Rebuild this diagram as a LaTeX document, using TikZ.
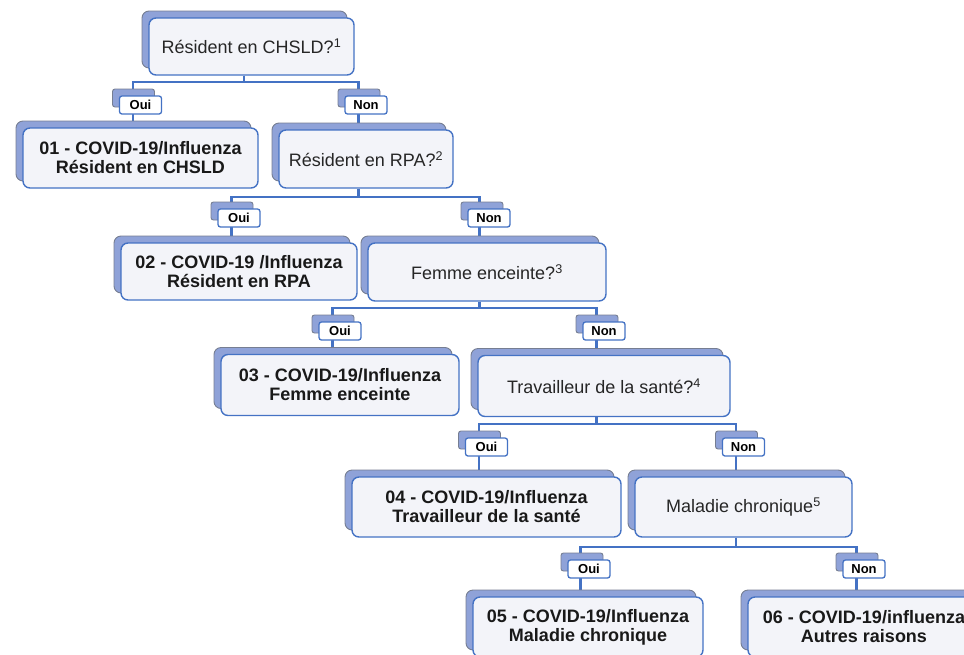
\documentclass[tikz,border=0pt]{standalone}
\usepackage{fontspec}
\setmainfont{Liberation Sans}
\usepackage{tikz}
\usetikzlibrary{shadows, backgrounds}

\definecolor{linkblue}{HTML}{4472C4}
\definecolor{backfill}{HTML}{8FA2D8}
\definecolor{backedge}{HTML}{767E92}
\definecolor{frontfill}{HTML}{F3F4F9}
\definecolor{textgray}{HTML}{262626}

\tikzset{
    question/.style={rectangle, rounded corners=7pt, draw=linkblue, line width=1.4pt,
        fill=frontfill, text=textgray, inner sep=0pt,
        font=\fontsize{18}{19}\selectfont,
        general shadow={shadow xshift=-7pt, shadow yshift=7pt, fill=backfill, draw=backedge, line width=0.9pt}},
    result/.style={question, align=center, text=black!90,
        font=\bfseries\fontsize{18}{19}\selectfont},
    tab/.style={rectangle, rounded corners=2.5pt, draw=linkblue, line width=1.3pt,
        fill=white, minimum width=42pt, minimum height=18pt, inner sep=0pt,
        font=\bfseries\fontsize{13}{13}\selectfont,
        general shadow={shadow xshift=-7pt, shadow yshift=7pt, fill=backfill, draw=backedge, line width=0.9pt}},
    link/.style={draw=linkblue, line width=2.4pt}
}

\begin{document}
\begin{tikzpicture}[x=1pt, y=-1pt]
    \useasboundingbox (0,0) rectangle (964,654);
    \clip (0,0) rectangle (964,654);

    % Niveau 1
    \node[question, minimum width=205pt, minimum height=57pt] (q1) at (251.5,46.5) {Résident en CHSLD?\textsuperscript{1}};
    \node[result, minimum width=235pt, minimum height=60pt] (r1) at (140.5,158) {01 - COVID-19/Influenza\\Résident en CHSLD};
    \node[question, minimum width=174pt, minimum height=58pt] (q2) at (366,159) {Résident en RPA?\textsuperscript{2}};

    % Niveau 2
    \node[result, minimum width=236pt, minimum height=57pt] (r2) at (239,271.5) {02 - COVID-19 /Influenza\\Résident en RPA};
    \node[question, minimum width=238pt, minimum height=58pt] (q3) at (487,272) {Femme enceinte?\textsuperscript{3}};

    % Niveau 3
    \node[result, minimum width=238pt, minimum height=61pt] (r3) at (340,385) {03 - COVID-19/Influenza\\Femme enceinte};
    \node[question, minimum width=252pt, minimum height=61pt] (q4) at (604,386) {Travailleur de la santé?\textsuperscript{4}};

    % Niveau 4
    \node[result, minimum width=269pt, minimum height=60pt] (r4) at (486.5,507) {04 - COVID-19/Influenza\\Travailleur de la santé};
    \node[question, minimum width=217pt, minimum height=60pt] (q5) at (743.5,507) {Maladie chronique\textsuperscript{5}};

    % Niveau 5
    \node[result, minimum width=230pt, minimum height=60pt] (r5) at (588,627) {05 - COVID-19/Influenza\\Maladie chronique};
    \node[result, minimum width=232pt, minimum height=60pt] (r6) at (864,627) {06 - COVID-19/influenza\\Autres raisons};

    % Etiquettes Oui / Non
    \node[tab] (t1y) at (140.5,105) {Oui};
    \node[tab] (t1n) at (366,105) {Non};
    \node[tab] (t2y) at (239,218) {Oui};
    \node[tab] (t2n) at (489,218) {Non};
    \node[tab] (t3y) at (340,331) {Oui};
    \node[tab] (t3n) at (604,331) {Non};
    \node[tab] (t4y) at (486.5,447) {Oui};
    \node[tab] (t4n) at (743.5,447) {Non};
    \node[tab] (t5y) at (589,569) {Oui};
    \node[tab] (t5n) at (864,569) {Non};

    % Liens
    \begin{scope}[on background layer]
        \draw[link] ([xshift=-7.5pt]q1.south) -- ++(0,6) -| ([xshift=-7.5pt]r1.north);
        \draw[link] ([xshift=-7.5pt]q1.south) -- ++(0,6) -| ([xshift=-7.5pt]q2.north);
        \draw[link] ([xshift=-7.5pt]q2.south) -- ++(0,8) -| ([xshift=-7.5pt]r2.north);
        \draw[link] ([xshift=-7.5pt]q2.south) -- ++(0,8) -| ([xshift=-7.5pt]q3.north);
        \draw[link] ([xshift=-7.5pt]q3.south) -- ++(0,6) -| ([xshift=-7.5pt]r3.north);
        \draw[link] ([xshift=-7.5pt]q3.south) -- ++(0,6) -| ([xshift=-7.5pt]q4.north);
        \draw[link] ([xshift=-7.5pt]q4.south) -- ++(0,7) -| ([xshift=-7.5pt]r4.north);
        \draw[link] ([xshift=-7.5pt]q4.south) -- ++(0,7) -| ([xshift=-7.5pt]q5.north);
        \draw[link] ([xshift=-7.5pt]q5.south) -- ++(0,9) -| ([xshift=-7.5pt]r5.north);
        \draw[link] ([xshift=-7.5pt]q5.south) -- ++(0,9) -| ([xshift=-7.5pt]r6.north);
    \end{scope}
\end{tikzpicture}
\end{document}
